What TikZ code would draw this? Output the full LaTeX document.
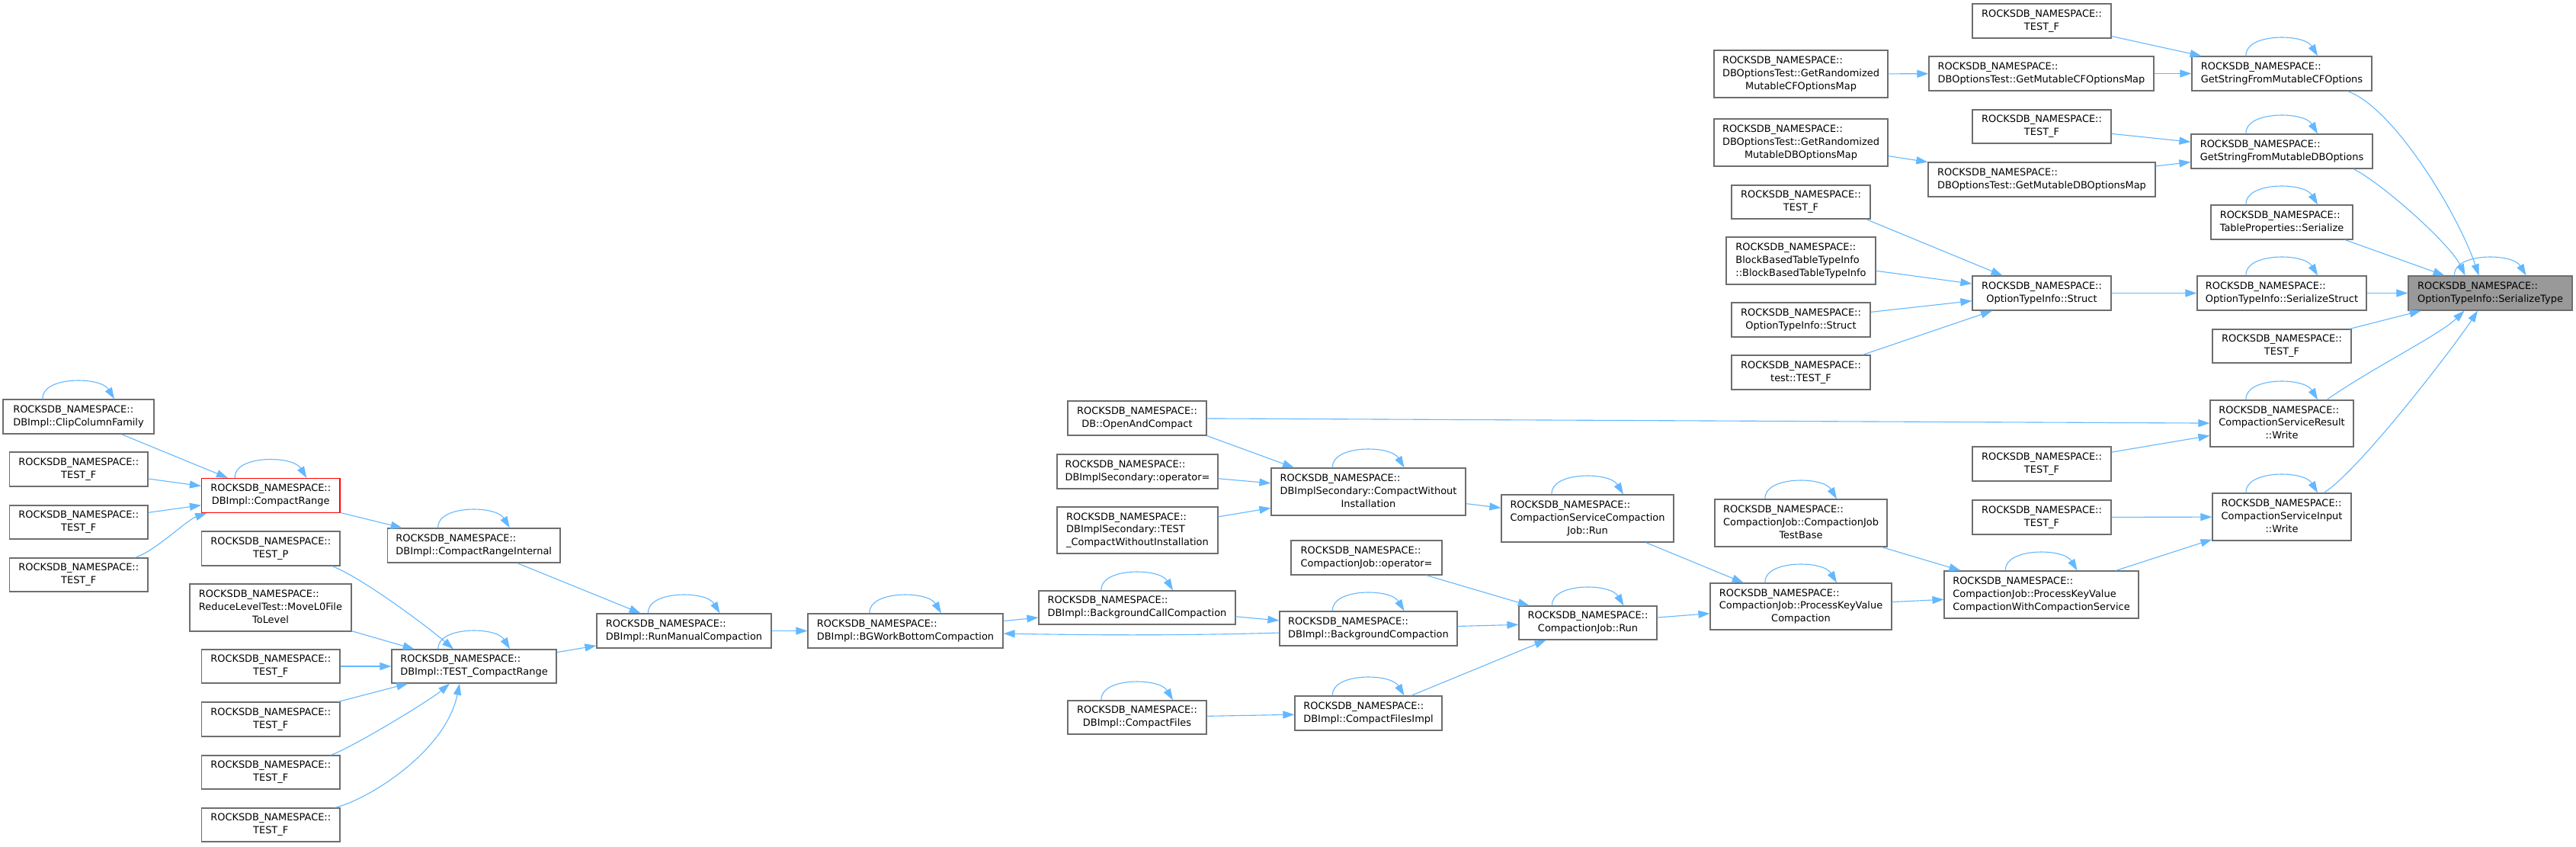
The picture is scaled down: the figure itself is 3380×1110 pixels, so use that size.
\documentclass[tikz,border=0pt]{standalone}
\usepackage{fontspec}
\setmainfont{DejaVu Sans}
\usetikzlibrary{arrows.meta}
\definecolor{edgeblue}{HTML}{63B8FF}
\definecolor{boxgrey}{HTML}{6E6E6E}
\definecolor{curfill}{HTML}{999999}
\newcommand\RN{ROCKSDB\_NAMESPACE::}
\newcommand\twol[2]{\begin{tabular}{@{}l@{}}#1\\\multicolumn{1}{@{}c@{}}{#2}\end{tabular}}
\newcommand\threel[3]{\begin{tabular}{@{}l@{}}#1\\#2\\\multicolumn{1}{@{}c@{}}{#3}\end{tabular}}
\newcommand\mknode[7][]{\node[box,#1,minimum width={(#5-#3)*0.5pt},minimum height={(#6-#4)*0.5pt}] (#2) at ({(#3+#5)/2},{(#4+#6)/2}) {#7};}
\newcommand\selfloop[1]{\draw[edge] ([xshift=-23.5pt]#1.north) .. controls +(-1pt,15pt) and +(-9pt,15pt) .. ([xshift=23.5pt]#1.north);}
\tikzset{
  box/.style={draw=boxgrey, fill=white, line width=0.6pt, inner sep=0pt, font={\fontsize{6.47pt}{8.4pt}\selectfont}},
  edge/.style={draw=edgeblue, line width=0.55pt, -{Triangle[length=7.5pt,width=5pt]}, fill=none}
}
\begin{document}
\begin{tikzpicture}[x=0.5pt,y=-0.5pt]
\fill[white] (0,0) rectangle (3380,1110);
\useasboundingbox (0,0) rectangle (3380,1110);
% column A
\mknode{clip}{4}{524}{202}{569}{\twol{\RN}{DBImpl::ClipColumnFamily}}
\mknode{tfa1}{12.5}{593}{194}{638}{\twol{\RN}{TEST\_F}}
\mknode{tfa2}{12.5}{663}{194}{707}{\twol{\RN}{TEST\_F}}
\mknode{tfa3}{12.5}{732}{194}{776}{\twol{\RN}{TEST\_F}}
% column B
\mknode[draw=red]{cr}{264.5}{627.5}{446}{672.5}{\twol{\RN}{DBImpl::CompactRange}}
\mknode{tp}{264.5}{697}{446}{742}{\twol{\RN}{TEST\_P}}
\mknode{rl}{249}{766}{461}{828}{\threel{\RN}{ReduceLevelTest::MoveL0File}{ToLevel}}
\mknode{tfb1}{264.5}{852}{446}{896}{\twol{\RN}{TEST\_F}}
\mknode{tfb2}{264.5}{921}{446}{966}{\twol{\RN}{TEST\_F}}
\mknode{tfb3}{264.5}{991}{446}{1035}{\twol{\RN}{TEST\_F}}
\mknode{tfb4}{264.5}{1060}{446}{1104}{\twol{\RN}{TEST\_F}}
% column C
\mknode{cri}{508.5}{693}{735}{738}{\twol{\RN}{DBImpl::CompactRangeInternal}}
\mknode{tcr}{514}{852}{730}{896}{\twol{\RN}{DBImpl::TEST\_CompactRange}}
% column D, E
\mknode{rmc}{783}{805}{1012}{850}{\twol{\RN}{DBImpl::RunManualCompaction}}
\mknode{bgw}{1060}{805}{1316}{850}{\twol{\RN}{DBImpl::BGWorkBottomCompaction}}
% column F
\mknode{oac}{1401}{526}{1583}{571}{\twol{\RN}{DB::OpenAndCompact}}
\mknode{dop}{1387}{596}{1598}{641}{\twol{\RN}{DBImplSecondary::operator=}}
\mknode{dtc}{1387}{665}{1598}{726}{\threel{\RN}{DBImplSecondary::TEST}{\_CompactWithoutInstallation}}
\mknode{bcc}{1363}{775}{1621}{819}{\twol{\RN}{DBImpl::BackgroundCallCompaction}}
\mknode{cf}{1401}{919}{1583}{963}{\twol{\RN}{DBImpl::CompactFiles}}
% column G
\mknode{cwi}{1668}{614}{1923}{676}{\threel{\RN}{DBImplSecondary::CompactWithout}{Installation}}
\mknode{cjop}{1694}{709}{1892}{754}{\twol{\RN}{CompactionJob::operator=}}
\mknode{bc}{1679}{802}{1912}{847}{\twol{\RN}{DBImpl::BackgroundCompaction}}
\mknode{cfi}{1699}{913}{1892}{958}{\twol{\RN}{DBImpl::CompactFilesImpl}}
% column H
\mknode{cscj}{1970}{649}{2196}{711}{\threel{\RN}{CompactionServiceCompaction}{Job::Run}}
\mknode{cjrun}{1993}{795}{2174}{839}{\twol{\RN}{CompactionJob::Run}}
% column I
\mknode{grcf}{2249}{66}{2477}{128}{\threel{\RN}{DBOptionsTest::GetRandomized}{MutableCFOptionsMap}}
\mknode{grdb}{2249}{156}{2477}{218}{\threel{\RN}{DBOptionsTest::GetRandomized}{MutableDBOptionsMap}}
\mknode{tfi1}{2272}{243}{2454}{287}{\twol{\RN}{TEST\_F}}
\mknode{bbt}{2265}{311}{2461}{373}{\threel{\RN}{BlockBasedTableTypeInfo}{::BlockBasedTableTypeInfo}}
\mknode{stl}{2272}{397}{2454}{442}{\twol{\RN}{OptionTypeInfo::Struct}}
\mknode{ttf}{2272}{466}{2454}{511}{\twol{\RN}{test::TEST\_F}}
\mknode{cjtb}{2250}{655}{2476}{717}{\threel{\RN}{CompactionJob::CompactionJob}{TestBase}}
\mknode{pkvc}{2244}{765}{2482}{826}{\threel{\RN}{CompactionJob::ProcessKeyValue}{Compaction}}
% column J
\mknode{tfj1}{2588}{5}{2770}{50}{\twol{\RN}{TEST\_F}}
\mknode{gmcf}{2531}{74}{2826}{119}{\twol{\RN}{DBOptionsTest::GetMutableCFOptionsMap}}
\mknode{tfj2}{2588}{144}{2770}{188}{\twol{\RN}{TEST\_F}}
\mknode{gmdb}{2530}{213}{2828}{258}{\twol{\RN}{DBOptionsTest::GetMutableDBOptionsMap}}
\mknode{stm}{2588}{362}{2770}{407}{\twol{\RN}{OptionTypeInfo::Struct}}
\mknode{tfj3}{2588}{586}{2770}{631}{\twol{\RN}{TEST\_F}}
\mknode{tfj4}{2588}{656}{2770}{701}{\twol{\RN}{TEST\_F}}
\mknode{pkvcw}{2551}{749}{2806}{811}{\threel{\RN}{CompactionJob::ProcessKeyValue}{CompactionWithCompactionService}}
% column K
\mknode{gscf}{2876}{74}{3112}{119}{\twol{\RN}{GetStringFromMutableCFOptions}}
\mknode{gsdb}{2875}{176}{3113}{221}{\twol{\RN}{GetStringFromMutableDBOptions}}
\mknode{tps}{2901}{269}{3087}{314}{\twol{\RN}{TableProperties::Serialize}}
\mknode{ss}{2883}{362}{3105}{407}{\twol{\RN}{OptionTypeInfo::SerializeStruct}}
\mknode{tfk}{2903}{432}{3085}{476}{\twol{\RN}{TEST\_F}}
\mknode{csrw}{2900}{525}{3088}{586}{\threel{\RN}{CompactionServiceResult}{::Write}}
\mknode{csiw}{2903}{647}{3085}{709}{\threel{\RN}{CompactionServiceInput}{::Write}}
% column L
\mknode[fill=curfill]{st}{3160}{362}{3375}{407}{\twol{\RN}{OptionTypeInfo::SerializeType}}

% straight edges
\foreach \a/\b in {clip/cr, tfa1/cr, tfa2/cr, cr/cri, cri/rmc, rl/tcr, tfb1/tcr, tfb2/tcr, tcr/rmc,
  rmc/bgw, bgw/bcc, bcc/bc, bc/cjrun, dop/cwi, dtc/cwi, cwi/cscj, cscj/pkvc, cjop/cjrun, cf/cfi,
  cfi/cjrun, cjrun/pkvc, cjtb/pkvcw, pkvc/pkvcw, pkvcw/csiw, tfj4/csiw, tfj3/csrw, oac/csrw,
  tfk/st, ss/st, stm/ss, bbt/stm, stl/stm, tfj2/gsdb, gmdb/gsdb, grdb/gmdb, tfj1/gscf, gmcf/gscf, grcf/gmcf}
  {\draw[edge] (\a) -- (\b);}

% custom edges
\draw[edge] ([xshift=37pt]tfa3.north) .. controls (205,722) and (245,682) .. ([xshift=-42pt]cr.south);
\draw[edge] ([xshift=-5.5pt]tp.south east) .. controls (470,755) and (555,817) .. ([xshift=-13.5pt]tcr.north);
\draw[edge] ([xshift=-6.2pt]tfb3.north east) .. controls (465,979) and (565,918) .. ([xshift=-16pt]tcr.south);
\draw[edge] ([xshift=-3.5pt]tfb4.north east) .. controls (485,1048) and (585,985) .. ([xshift=-9.5pt]tcr.south);
\draw[edge] ([yshift=-2.75pt]bc.west) .. controls (1550,834) and (1420,833) .. ([yshift=-1.75pt]bgw.east);
\draw[edge] (oac.south east) -- ([xshift=-48.75pt]cwi.north);
\draw[edge] ([xshift=-3pt]tfi1.south east) -- ([xshift=-25.75pt]stm.north);
\draw[edge] ([xshift=-5.25pt]ttf.north east) -- ([xshift=-32.5pt]stm.south);
\draw[edge] ([xshift=27.5pt]csiw.north) .. controls (3095,618) and (3220,455) .. ([xshift=-8.25pt]st.south);
\draw[edge] ([xshift=29.5pt]csrw.north) .. controls (3110,484) and (3200,440) .. ([xshift=-17pt]st.south);
\draw[edge] ([xshift=47pt]gsdb.south) .. controls (3125,240) and (3215,320) .. ([xshift=-16.5pt]st.north);
\draw[edge] ([xshift=43pt]gscf.south) .. controls (3140,140) and (3225,280) .. ([xshift=-7.5pt]st.north);
\draw[edge] ([xshift=41.5pt]tps.south) -- ([xshift=-30pt]st.north);

% self loops
\foreach \n in {clip, cr, cri, tcr, rmc, bgw, bcc, bc, cwi, cscj, cjrun, cf, cfi, cjtb, pkvc, pkvcw, csiw, csrw, ss, tps, gsdb, gscf, st}
  {\selfloop{\n}}
\end{tikzpicture}
\end{document}
